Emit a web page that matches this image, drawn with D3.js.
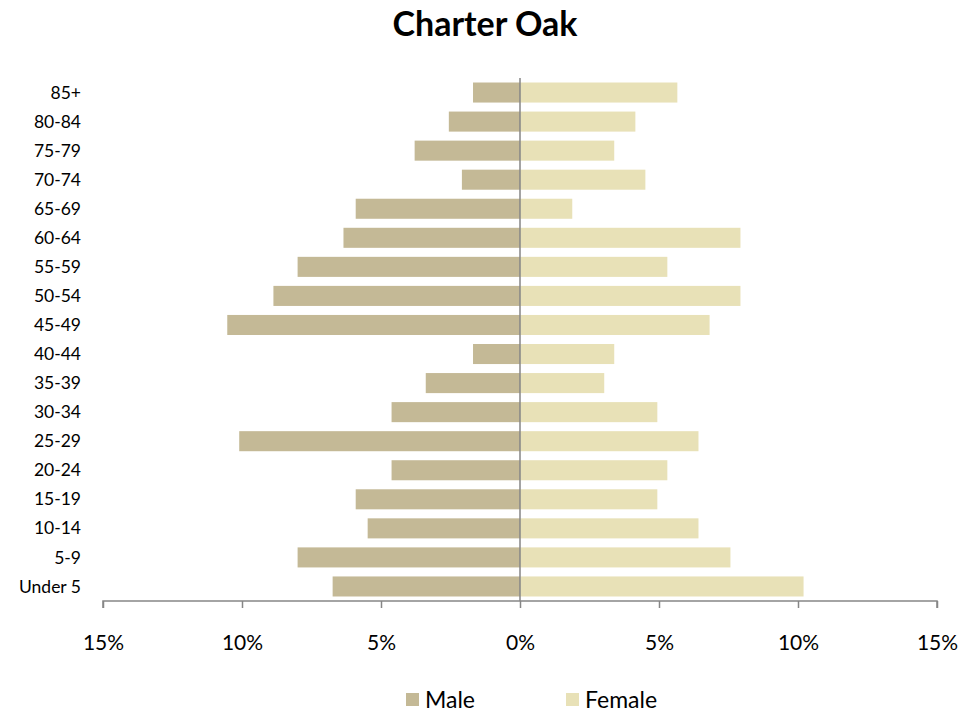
<!DOCTYPE html>
<html>
<head>
<meta charset="utf-8">
<script src="https://cdn.jsdelivr.net/npm/d3@7"></script>
<style>
  body { margin: 0; background: #fff; }
  svg text { font-family: Lato, "Open Sans", sans-serif; fill: #000; }
</style>
</head>
<body>
<div id="chart"></div>
<script>
// Data
const ageGroups = ["85+","80-84","75-79","70-74","65-69","60-64","55-59","50-54","45-49",
  "40-44","35-39","30-34","25-29","20-24","15-19","10-14","5-9","Under 5"];
const male = [1.69,2.56,3.79,2.09,5.91,6.35,8.0,8.87,10.53,1.69,3.39,4.62,10.1,4.62,5.91,5.48,8.0,6.74];
const female = [5.66,4.15,3.39,4.51,1.88,7.93,5.30,7.93,6.82,3.39,3.03,4.94,6.42,5.30,4.94,6.42,7.57,10.2];
const tickValues = [-15,-10,-5,0,5,10,15];
const seriesNames = ["Male","Female"];
const colors = {Male: "#c4b996", Female: "#e8e1b7"};

const W = 979, H = 713;
const svg = d3.select("#chart").append("svg").attr("width", W).attr("height", H);

const x = d3.scaleLinear().domain([-15, 15]).range([103, 937]);
const y = d3.scaleBand().domain(ageGroups).range([78, 601]).paddingInner(0.31).paddingOuter(0.155);

// title
svg.append("text").attr("x", 485).attr("y", 36)
  .attr("text-anchor", "middle").attr("font-size", 34).attr("font-weight", "bold")
  .text("Charter Oak");

// bars
svg.selectAll("rect.male").data(ageGroups).enter().append("rect")
  .attr("class", "male")
  .attr("x", (d, i) => x(-male[i]))
  .attr("width", (d, i) => x(0) - x(-male[i]))
  .attr("y", d => y(d))
  .attr("height", y.bandwidth())
  .attr("fill", colors.Male);

svg.selectAll("rect.female").data(ageGroups).enter().append("rect")
  .attr("class", "female")
  .attr("x", x(0))
  .attr("width", (d, i) => x(female[i]) - x(0))
  .attr("y", d => y(d))
  .attr("height", y.bandwidth())
  .attr("fill", colors.Female);

// category labels
svg.selectAll("text.cat").data(ageGroups).enter().append("text")
  .attr("class", "cat")
  .attr("x", 81)
  .attr("y", d => y(d) + y.bandwidth() / 2)
  .attr("dy", "0.35em")
  .attr("text-anchor", "end")
  .attr("font-size", 17.5)
  .text(d => d);

// center line
svg.append("line").attr("x1", x(0)).attr("x2", x(0)).attr("y1", 78).attr("y2", 601)
  .attr("stroke", "#868686").attr("stroke-width", 1.5);

// x axis
const xAxis = d3.axisBottom(x).tickValues(tickValues).tickSize(7).tickPadding(27)
  .tickFormat(d => Math.abs(d) + "%");
const gx = svg.append("g").attr("transform", "translate(0,601)").call(xAxis);
gx.select(".domain").attr("stroke", "#868686").attr("stroke-width", 1.5)
  .attr("d", `M${x(-15)},7V0H${x(15)}V7`);
gx.selectAll(".tick line").attr("stroke", "#868686").attr("stroke-width", 1.5);
gx.selectAll(".tick text").attr("font-size", 21).attr("font-family", "Lato, 'Open Sans', sans-serif").attr("fill", "#000");

// legend
const legendX = [406, 566];
const lg = svg.selectAll("g.leg").data(seriesNames).enter().append("g")
  .attr("class", "leg")
  .attr("transform", (d, i) => `translate(${legendX[i]},693)`);
lg.append("rect").attr("width", 13).attr("height", 13).attr("fill", d => colors[d]);
lg.append("text").attr("x", 19).attr("y", 7).attr("dy", "0.35em")
  .attr("font-size", 23).text(d => d);
</script>
</body>
</html>
